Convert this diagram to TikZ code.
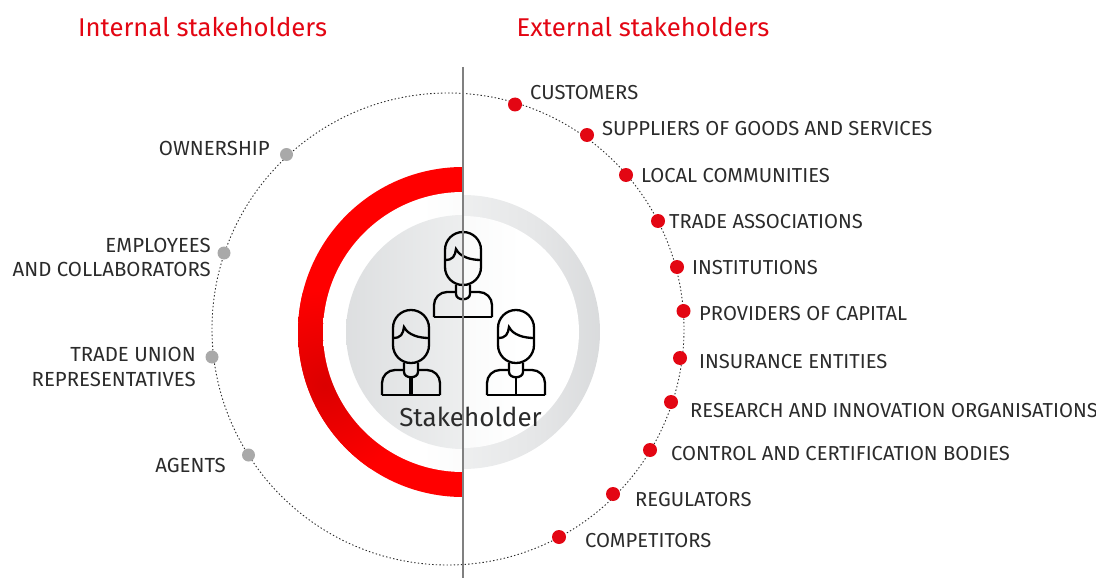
\documentclass[tikz,border=0pt]{standalone}
\usepackage{fontspec}
\setmainfont{Fira Sans}
\usepackage{tikz}
\usetikzlibrary{positioning}
\definecolor{stakered}{HTML}{E30613}
\definecolor{stakegray}{HTML}{A9A9A9}
\definecolor{labelink}{HTML}{2B2B2B}
\definecolor{discgray}{HTML}{D5D7D9}
\definecolor{ringgray}{HTML}{CDCFD1}
\definecolor{midgray}{HTML}{E6E7E8}
\definecolor{palegray}{HTML}{F5F6F6}
\pgfdeclarehorizontalshading{leftdisc}{100bp}{color(0bp)=(discgray); color(100bp)=(palegray)}
\pgfdeclarehorizontalshading{leftring}{100bp}{color(0bp)=(white); color(60bp)=(white); color(100bp)=(palegray)}
\pgfdeclarehorizontalshading{rightring}{100bp}{color(0bp)=(palegray); color(50bp)=(midgray); color(100bp)=(ringgray)}
\pgfdeclarehorizontalshading{rightdisc}{100bp}{color(0bp)=(palegray); color(50bp)=(white); color(100bp)=(white)}
\tikzset{
	reddot/.style={circle, fill=stakered, inner sep=0pt, minimum size=14pt},
	graydot/.style={circle, fill=stakegray, inner sep=0pt, minimum size=13pt},
	extlabel/.style={anchor=west, inner sep=0pt, text=labelink, font=\fontsize{20.2}{24}\selectfont},
	intlabel/.style={anchor=east, align=right, inner sep=0pt, text=labelink, font=\fontsize{20.4}{24.5}\selectfont},
	heading/.style={inner sep=0pt, text=stakered, font=\fontsize{25.7}{30}\selectfont},
	person/.pic={
		\draw[line width=2.3pt, rounded corners=17.9pt, fill=none] (-18,-53) rectangle (18,0);
		\draw[line width=2.3pt] (-18,-25) .. controls (-10,-25) and (-8,-29) .. (-7,-36) .. controls (-3,-28) and (8,-25) .. (18,-25);
		\draw[line width=2.3pt] (-7,0) -- (-7,9) .. controls (-7,16) and (7,16) .. (7,9) -- (7,0);
		\draw[line width=2.3pt, rounded corners=13pt] (-29,32) -- (-29,7) -- (-7,7);
		\draw[line width=2.3pt, rounded corners=13pt] (29,32) -- (29,7) -- (7,7);
		\draw[line width=2.3pt] (-29,32) -- (29,32);
	}
}
\begin{document}
\begin{tikzpicture}[x=1pt, y=-1pt]
	\useasboundingbox (0,0) rectangle (1096,578);
	\coordinate (hub) at (463,332);
	\coordinate (orbit) at (448,329);
	\draw[line width=.9pt, dash pattern=on 1.4pt off 2.2pt, labelink] (orbit) circle (236);
	\begin{scope}
		\clip (290,150) rectangle (463,520);
		\fill[red] (hub) circle (165);
		\clip (hub) circle (165);
		\shade[inner color=red!86!black, outer color=red] (325,385) circle (95);
	\end{scope}
	\begin{scope}
		\clip (290,150) rectangle (463,520);
		\clip (hub) circle (140);
		\shade[shading=leftring] (323,192) rectangle (463,472);
	\end{scope}
	\begin{scope}
		\clip (290,150) rectangle (463,520);
		\clip (hub) circle (117);
		\shade[shading=leftdisc] (346,215) rectangle (463,449);
	\end{scope}
	\begin{scope}
		\clip (463,150) rectangle (620,520);
		\clip (hub) circle (137);
		\shade[shading=rightring] (463,195) rectangle (600,469);
	\end{scope}
	\begin{scope}
		\clip (463,150) rectangle (620,520);
		\clip (hub) circle (116);
		\shade[shading=rightdisc] (463,216) rectangle (579,448);
	\end{scope}
	\pic (topperson) at (463,285) {person};
	\pic (leftperson) at (411,363) {person};
	\pic (rightperson) at (516,363) {person};
	\draw[line width=2pt] (463,299) -- (463,317);
	\draw[line width=4.5pt] (411,376) -- (411,395);
	\draw[line width=2pt] (516,377) -- (516,395);
	\node[inner sep=0pt, text=labelink, font=\fontsize{26}{30}\selectfont] (hublabel) at (470.5,417) {Stakeholder};
	\draw[line width=1.5pt, gray] (463,67) -- (463,578);
	\node[heading] (internal) at (202.5,27) {Internal stakeholders};
	\node[heading] (external) at (643,27) {External stakeholders};
	\foreach [count=\i] \dx/\dy/\lx/\ly/\txt in {
		515/104.5/530/92.5/CUSTOMERS,
		587/135/602/128.5/SUPPLIERS OF GOODS AND SERVICES,
		626/175/641/175.5/LOCAL COMMUNITIES,
		658/221/669/221.5/TRADE ASSOCIATIONS,
		677/267/692/267.5/INSTITUTIONS,
		683.5/311/699/313.5/PROVIDERS OF CAPITAL,
		680/358/699/361.5/INSURANCE ENTITIES,
		671/402/690/410.5/RESEARCH AND INNOVATION ORGANISATIONS,
		650/450/671/453.5/CONTROL AND CERTIFICATION BODIES,
		613/494/635/499.5/REGULATORS,
		559/537/585/540.5/COMPETITORS}{
		\node[reddot] (ext\i) at (\dx,\dy) {};
		\node[extlabel] (extlabel\i) at (\lx,\ly) {\txt};
	}
	\foreach [count=\i] \dx/\dy/\lx/\ly/\txt in {
		286.5/154.5/270/148.5/OWNERSHIP,
		224/253/211/257.5/EMPLOYEES\\AND COLLABORATORS,
		212/357/196/367/TRADE UNION\\REPRESENTATIVES,
		248.5/455/226/465.5/AGENTS}{
		\node[graydot] (int\i) at (\dx,\dy) {};
		\node[intlabel] (intlabel\i) at (\lx,\ly) {\txt};
	}
\end{tikzpicture}
\end{document}
